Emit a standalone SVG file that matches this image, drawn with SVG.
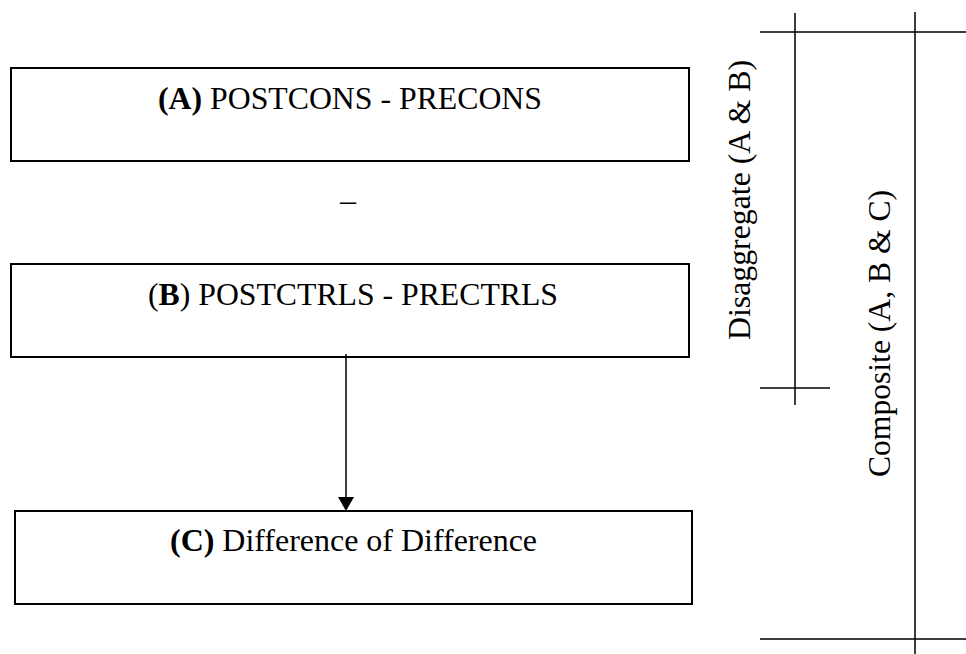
<svg xmlns="http://www.w3.org/2000/svg" width="966" height="654" viewBox="0 0 966 654">
<style>
.box{fill:#fff;stroke:#000;stroke-width:2}
.ln{stroke:#000;stroke-width:1.5;fill:none}
.t{font-family:"Liberation Serif","Times New Roman",serif;font-size:32px;fill:#000}
.b{font-weight:bold}
</style>
<rect width="966" height="654" fill="#fff"/>
<g id="nodeA">
<rect class="box" x="11" y="68" width="678" height="93"/>
<text class="t" x="350" y="109" text-anchor="middle" textLength="384" lengthAdjust="spacingAndGlyphs"><tspan class="b">(A)</tspan> POSTCONS - PRECONS</text>
</g>
<g id="minus">
<text class="t" x="348" y="211" text-anchor="middle">–</text>
</g>
<g id="nodeB">
<rect class="box" x="11" y="264" width="678" height="93"/>
<text class="t" x="353" y="305" text-anchor="middle" textLength="410" lengthAdjust="spacingAndGlyphs">(<tspan class="b">B</tspan>) POSTCTRLS - PRECTRLS</text>
</g>
<g id="nodeC">
<rect class="box" x="15" y="511" width="677" height="93"/>
<text class="t" x="353.5" y="551" text-anchor="middle" textLength="367" lengthAdjust="spacingAndGlyphs"><tspan class="b">(C)</tspan> Difference of Difference</text>
</g>
<g id="connectors">
<path class="ln" d="M346,354 V497"/>
<path d="M338,497 L354,497 L346,511 Z" fill="#000"/>
</g>
<g id="brackets">
<path class="ln" d="M795,13 V405 M760,32 H966 M760,388 H830 M915,12 V654 M760,639 H966"/>
<text class="t" transform="translate(750,200) rotate(-90)" text-anchor="middle" textLength="280" lengthAdjust="spacingAndGlyphs">Disaggregate (A &amp; B)</text>
<text class="t" transform="translate(890,333.5) rotate(-90)" text-anchor="middle" textLength="287" lengthAdjust="spacingAndGlyphs">Composite (A, B &amp; C)</text>
</g>
</svg>
